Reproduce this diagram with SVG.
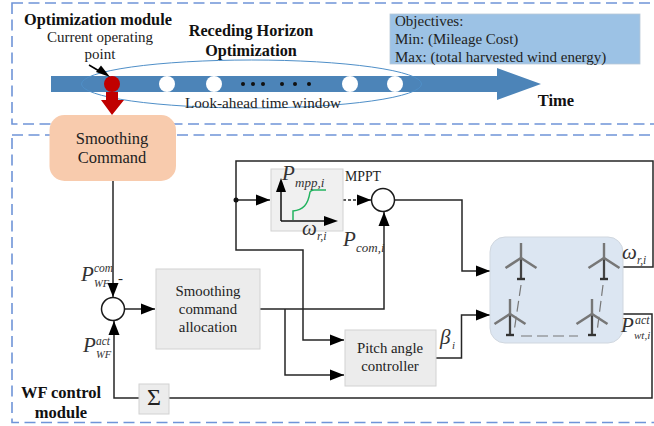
<svg xmlns="http://www.w3.org/2000/svg" width="654" height="426" viewBox="0 0 654 426">
<style>
text{font-family:"Liberation Serif","Times New Roman",serif;fill:#222}
.b{font-weight:bold;fill:#111}
.t{font-size:14.800px;text-anchor:middle}
.o{font-size:15px}
.m{font-style:italic;fill:#333}
.module{fill:none;stroke:#6f94d8;stroke-width:1.6;stroke-dasharray:11 5.5}
.w{fill:none;stroke:#262626;stroke-width:1.5}
.gb{fill:#ececec;stroke:#d2d2d2}
.sj{fill:#fff;stroke:#1a1a1a;stroke-width:1.5}
.wc{fill:#fff}
.d{fill:#111}
.tw{stroke:#777;fill:none;stroke-width:2.600}
</style>
<defs>
<marker id="a" markerUnits="userSpaceOnUse" markerWidth="14" markerHeight="12" refX="14" refY="6" orient="auto"><path d="M0 0.5L14 6L0 11.500Z" fill="#000"/></marker>
<g id="turb">
<path d="M0 0V36" stroke="#777" stroke-width="2.400"/><path d="M0 15V36" stroke="#444" stroke-width="2"/>
<path d="M-4 36H4" stroke="#333" stroke-width="2.400"/>
<path d="M-15.500 25L0 15L15.500 25" class="tw"/>
</g>
</defs>
<rect id="optimization-frame" class="module" x="12" y="3" width="660" height="121"/>
<rect id="control-frame" class="module" x="12" y="135" width="660" height="287.500"/>

<g id="time-axis">
<path d="M51 76H497V68L541 84L497 100V92H51Z" fill="#4c84b8"/>
<ellipse cx="251.500" cy="84" rx="170" ry="24" fill="none" stroke="#4f8fc8" stroke-width="1"/>
<circle class="wc" cx="167" cy="84" r="8"/><circle class="wc" cx="214" cy="84" r="8"/>
<circle class="wc" cx="350" cy="84" r="8"/><circle class="wc" cx="395" cy="84" r="8"/>
<circle class="d" cx="243" cy="84" r="2"/><circle class="d" cx="253" cy="84" r="2"/><circle class="d" cx="263" cy="84" r="2"/>
<circle class="d" cx="282" cy="84" r="2"/><circle class="d" cx="295" cy="84" r="2"/><circle class="d" cx="309" cy="84" r="2"/>
<path d="M106 92H118V100H124L112 115L101 100H106Z" fill="#c00000"/>
<circle cx="112" cy="84" r="8" fill="#c00000"/>
<path d="M89 65L100 71.500" stroke="#000" stroke-width="1.500"/>
<path d="M96 72L101 65.500L110 77Z" fill="#000"/>
</g>
<text class="b" x="24" y="25" font-size="16.300">Optimization module</text>
<text class="t" x="100" y="42" style="font-size:15px">Current operating</text>
<text class="t" x="100" y="59" style="font-size:15px">point</text>
<text class="b" x="251" y="36" font-size="16.200" text-anchor="middle">Receding Horizon</text>
<text class="b" x="251" y="56" font-size="16.200" text-anchor="middle">Optimization</text>
<text class="t" x="263" y="108" style="font-size:15.200px">Look-ahead time window</text>
<text class="b" x="556" y="106" font-size="16.500" text-anchor="middle">Time</text>

<g id="objectives">
<rect x="390" y="14" width="250" height="50" fill="#9cc2e5" stroke="#b8c8d8" stroke-width="0.800"/>
<text class="o" x="395" y="26">Objectives:</text>
<text class="o" x="395" y="44">Min: (Mileage Cost)</text>
<text class="o" x="395" y="62">Max: (total harvested wind energy)</text>
</g>

<g id="connectors">
<path class="w" d="M113 181V297" marker-end="url(#a)"/>
<path class="w" d="M125 309H155" marker-end="url(#a)"/>
<path class="w" d="M139 398H114V321" marker-end="url(#a)"/>
<path class="w" d="M169 398H652V314H623"/>
<path class="w" d="M623 267H653V161H236V250H303V340H344" marker-end="url(#a)"/>
<path class="w" d="M236 200H270" marker-end="url(#a)"/>
<path class="w" d="M343 200H371" stroke-dasharray="3 2" marker-end="url(#a)"/>
<path class="w" d="M260 309H384V212" marker-end="url(#a)"/>
<path class="w" d="M285 309V375H344" marker-end="url(#a)"/>
<path class="w" d="M395 200H462V271H490" marker-end="url(#a)"/>
<path class="w" d="M436 358H461.500V315H490" marker-end="url(#a)"/>
<circle cx="236" cy="200" r="2.500" fill="#111"/>
</g>

<g id="smoothing-command">
<rect x="49.500" y="115" width="126.500" height="66" rx="15" fill="#f8cbad"/>
<text x="112" y="144" font-size="16.500" text-anchor="middle">Smoothing</text>
<text x="112" y="163" font-size="16.500" text-anchor="middle">Command</text>
</g>
<g id="sum-junction"><circle class="sj" cx="113" cy="309" r="11.500"/></g>
<g id="mppt-junction"><circle class="sj" cx="383" cy="200" r="11.500"/></g>
<g id="allocation">
<rect class="gb" x="156" y="269" width="104" height="80"/>
<text class="t" x="208" y="296">Smoothing</text>
<text class="t" x="208" y="314">command</text>
<text class="t" x="208" y="332">allocation</text>
</g>
<g id="pitch-controller">
<rect class="gb" x="345" y="330" width="91" height="56"/>
<text class="t" x="390" y="353">Pitch angle</text>
<text class="t" x="390" y="371">controller</text>
</g>
<g id="sigma">
<rect class="gb" x="139" y="384" width="30" height="30"/>
<text x="154" y="405" font-size="24" text-anchor="middle">Σ</text>
</g>
<g id="mppt">
<rect x="271" y="169" width="72" height="62" fill="#f0f0f0" stroke="#d2d2d2"/>
<path d="M281 221V190" stroke="#111" stroke-width="1.500"/>
<path d="M281 178L286 192H276Z" fill="#000"/>
<path d="M281 221H326" stroke="#111" stroke-width="1.500"/>
<path d="M338 221L324 216V226Z" fill="#000"/>
<path d="M293 220V211C303 210 308 205 310 192Q311 190 314 190H326" fill="none" stroke="#22b35f" stroke-width="1.500"/>
<text class="m" x="282" y="180" font-size="21">P</text>
<text class="m" x="295" y="187" font-size="13">mpp,i</text>
<text class="m" x="302" y="235" font-size="21">ω</text>
<text class="m" x="317" y="240" font-size="12">r,i</text>
<text x="345" y="181" font-size="13.800">MPPT</text>
</g>
<g id="wind-farm">
<rect x="490" y="237" width="133" height="106" rx="15" fill="#dce6f2" stroke="#d0d7df"/>
<path d="M521 285L514 332M603 285L597 332M521 336H578" stroke="#777" stroke-width="1.200" stroke-dasharray="11 5" fill="none"/>
<use href="#turb" x="521" y="243"/><use href="#turb" x="604" y="243"/>
<use href="#turb" x="510" y="299"/><use href="#turb" x="592" y="299"/>
</g>

<g id="labels">
<text class="m" x="81" y="281" font-size="21">P</text><text class="m" x="94" y="272" font-size="11.500">com</text><text class="m" x="94" y="287" font-size="10.500">WF</text>
<text x="118" y="283" font-size="15">-</text>
<text class="m" x="83" y="352" font-size="21">P</text><text class="m" x="96" y="345" font-size="11.500">act</text><text class="m" x="96" y="358" font-size="10.500">WF</text>
<text class="m" x="343" y="246" font-size="21">P</text><text class="m" x="356" y="252" font-size="13">com,i</text>
<text class="m" x="440" y="344" font-size="21">β</text><text class="m" x="452" y="349" font-size="11">i</text>
<text class="m" x="622" y="259" font-size="21">ω</text><text class="m" x="637" y="264" font-size="11.500">r,i</text>
<text class="m" x="621" y="332" font-size="21">P</text><text class="m" x="635" y="324" font-size="12">act</text><text class="m" x="634" y="339" font-size="11">wt,i</text>
<text class="b" x="61" y="398" font-size="16.500" text-anchor="middle">WF control</text>
<text class="b" x="61" y="418" font-size="16.500" text-anchor="middle">module</text>
</g>
</svg>
